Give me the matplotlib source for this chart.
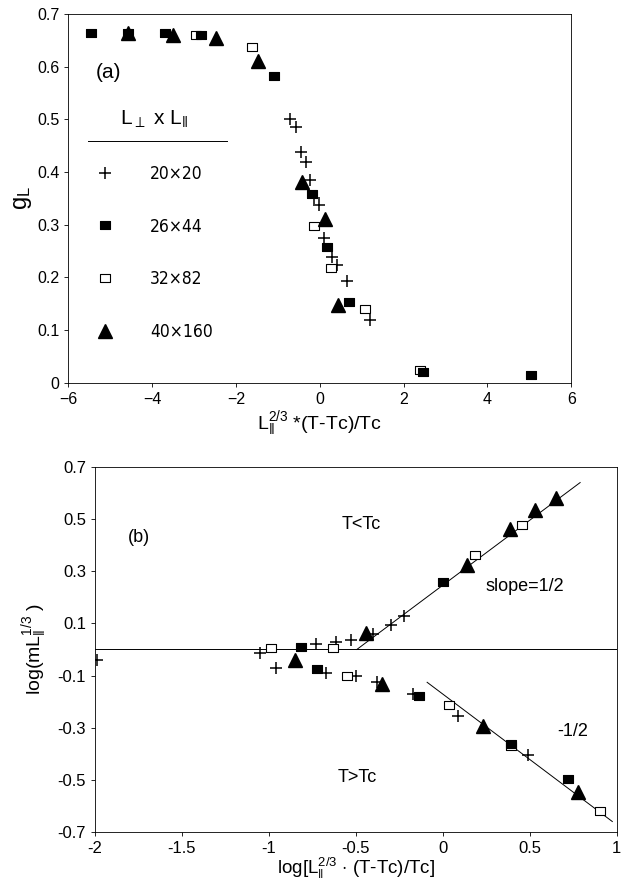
import matplotlib
matplotlib.use("Agg")
import matplotlib.pyplot as plt
from matplotlib.lines import Line2D
import numpy as np

plt.rcParams['font.family'] = ['Liberation Sans', 'DejaVu Sans']
plt.rcParams['mathtext.fontset'] = 'custom'
plt.rcParams['mathtext.rm'] = 'Liberation Sans'
plt.rcParams['mathtext.it'] = 'Liberation Sans:italic'

# ---------------- Panel (a) data ----------------
a_plus_x = [-0.70, -0.56, -0.45, -0.34, -0.24, -0.13, -0.015, 0.10, 0.28, 0.41, 0.66, 1.19]
a_plus_y = [0.500, 0.486, 0.439, 0.419, 0.385, 0.351, 0.337, 0.275, 0.239, 0.223, 0.194, 0.120]
a_fsq_x = [-5.45, -4.57, -3.70, -2.83, -1.10, -0.19, 0.17, 0.69, 2.46, 5.05]
a_fsq_y = [0.665, 0.665, 0.665, 0.660, 0.583, 0.358, 0.257, 0.154, 0.021, 0.015]
a_osq_x = [-2.96, -1.62, -0.15, 0.27, 1.07, 2.40]
a_osq_y = [0.660, 0.638, 0.298, 0.217, 0.141, 0.025]
a_tri_x = [-4.57, -3.50, -2.48, -1.48, -0.43, 0.12, 0.43]
a_tri_y = [0.665, 0.660, 0.654, 0.612, 0.381, 0.311, 0.147]
a_labels = ['20\u00d720', '26\u00d744', '32\u00d782', '40\u00d7160']

# ---------------- Panel (b) data ----------------
b_plus_x = [-1.99, -1.05, -0.96, -0.73, -0.67, -0.615, -0.53, -0.50, -0.40, -0.38, -0.296, -0.222, -0.17, 0.09, 0.49]
b_plus_y = [-0.040, -0.012, -0.070, 0.020, -0.090, 0.030, 0.038, -0.103, 0.060, -0.125, 0.095, 0.127, -0.172, -0.255, -0.405]
b_fsq_x = [-0.815, -0.726, -0.135, 0.0, 0.395, 0.718]
b_fsq_y = [0.010, -0.075, -0.178, 0.260, -0.362, -0.497]
b_osq_x = [-0.99, -0.63, -0.548, 0.036, 0.186, 0.393, 0.454, 0.905]
b_osq_y = [0.004, 0.006, -0.102, -0.215, 0.362, -0.372, 0.478, -0.620]
b_tri_x = [-0.851, -0.444, -0.347, 0.14, 0.234, 0.384, 0.53, 0.65, 0.78]
b_tri_y = [-0.040, 0.062, -0.132, 0.324, -0.292, 0.462, 0.534, 0.580, -0.545]
# fitted lines (endpoints)
fit_up_x = [-0.494, 0.79]
fit_up_y = [0.0, 0.64]
fit_dn_x = [-0.09, 0.975]
fit_dn_y = [-0.126, -0.66]

rect = [(-1, -0.75), (1, -0.75), (1, 0.75), (-1, 0.75), (-1, -0.75)]

sty_plus = dict(marker='+', ms=8.5, mew=1.1, color='black', ls='none')
sty_fsq = dict(marker=rect, ms=7.5, mfc='black', mec='black', mew=0.8, ls='none')
sty_osq = dict(marker=rect, ms=7.5, mfc='white', mec='black', mew=0.8, ls='none')
sty_tri = dict(marker='^', ms=9.5, mfc='black', mec='black', ls='none')

fig = plt.figure(figsize=(6.21, 8.86), dpi=100)

# ---------------- Panel (a) ----------------
ax1 = fig.add_axes([0.11, 0.568, 0.81, 0.416])
ax1.plot(a_plus_x, a_plus_y, **sty_plus)
ax1.plot(a_osq_x, a_osq_y, **sty_osq)
ax1.plot(a_tri_x, a_tri_y, **sty_tri)
ax1.plot(a_fsq_x, a_fsq_y, **sty_fsq)
ax1.set_xlim(-6, 6)
ax1.set_ylim(0, 0.7)
ax1.set_xticks(np.arange(-6, 7, 2))
ax1.set_yticks(np.arange(0, 0.71, 0.1))
ax1.set_yticklabels(['0', '0.1', '0.2', '0.3', '0.4', '0.5', '0.6', '0.7'])
ax1.tick_params(direction='out', length=3, width=0.6, labelsize=11.5, top=False, right=False)
for s in ax1.spines.values():
    s.set_linewidth(0.6)
ax1.set_ylabel(r'$\mathrm{g_L}$', fontsize=17, labelpad=2)
ax1.set_xlabel(r'$\mathrm{L_{\Vert}^{2/3}}$ *(T-Tc)/Tc', fontsize=14, labelpad=2)
ax1.text(-5.35, 0.59, '(a)', fontsize=15, va='center', ha='left')

handles = [Line2D([], [], **sty_plus), Line2D([], [], **sty_fsq),
           Line2D([], [], **sty_osq), Line2D([], [], **sty_tri)]
leg = ax1.legend(handles, a_labels, loc='upper left', bbox_to_anchor=(-5.75, 0.55),
                 bbox_transform=ax1.transData, frameon=False,
                 prop=dict(family='DejaVu Sans', stretch='condensed', size=12.5),
                 title=r'$\mathrm{L_{\perp}}$ x $\mathrm{L_{\Vert}}$', title_fontsize=15,
                 labelspacing=2.0, handletextpad=2.0, handlelength=1.2)
sep_x = [-5.52, -2.21]
sep_y = [0.46, 0.46]
ax1.plot(sep_x, sep_y, color='black', lw=0.7)

# ---------------- Panel (b) ----------------
ax2 = fig.add_axes([0.153, 0.061, 0.84, 0.412])
ax2.axhline(0.0, color='black', lw=0.7)
ax2.plot(fit_up_x, fit_up_y, color='black', lw=0.7)
ax2.plot(fit_dn_x, fit_dn_y, color='black', lw=0.7)
ax2.plot(b_plus_x, b_plus_y, **sty_plus)
ax2.plot(b_osq_x, b_osq_y, **sty_osq)
ax2.plot(b_tri_x, b_tri_y, **sty_tri)
ax2.plot(b_fsq_x, b_fsq_y, **sty_fsq)
ax2.set_xlim(-2, 1)
ax2.set_ylim(-0.7, 0.7)
ax2.set_xticks([-2, -1.5, -1, -0.5, 0, 0.5, 1])
ax2.set_xticklabels(['-2', '-1.5', '-1', '-0.5', '0', '0.5', '1'])
ax2.set_yticks([0.7, 0.5, 0.3, 0.1, -0.1, -0.3, -0.5, -0.7])
ax2.set_yticklabels(['0.7', '0.5', '0.3', '0.1', '-0.1', '-0.3', '-0.5', '-0.7'])
ax2.tick_params(direction='out', length=3, width=0.6, labelsize=12, top=False, right=False)
for s in ax2.spines.values():
    s.set_linewidth(0.6)
ax2.set_ylabel(r'log(m$\mathrm{L_{\Vert}^{1/3}}$ )', fontsize=14, labelpad=6)
ax2.set_xlabel(r'log[$\mathrm{L_{\Vert}^{2/3}}$ $\cdot$ (T-Tc)/Tc]', fontsize=13.5, labelpad=0)
ax2.text(-1.75, 0.43, '(b)', fontsize=13, ha='center', va='center')
ax2.text(-0.47, 0.48, 'T<Tc', fontsize=13, ha='center', va='center')
ax2.text(-0.49, -0.49, 'T>Tc', fontsize=13, ha='center', va='center')
ax2.text(0.47, 0.24, 'slope=1/2', fontsize=13, ha='center', va='center')
ax2.text(0.75, -0.315, '-1/2', fontsize=13, ha='center', va='center')

fig.savefig('out.png', dpi=100)
